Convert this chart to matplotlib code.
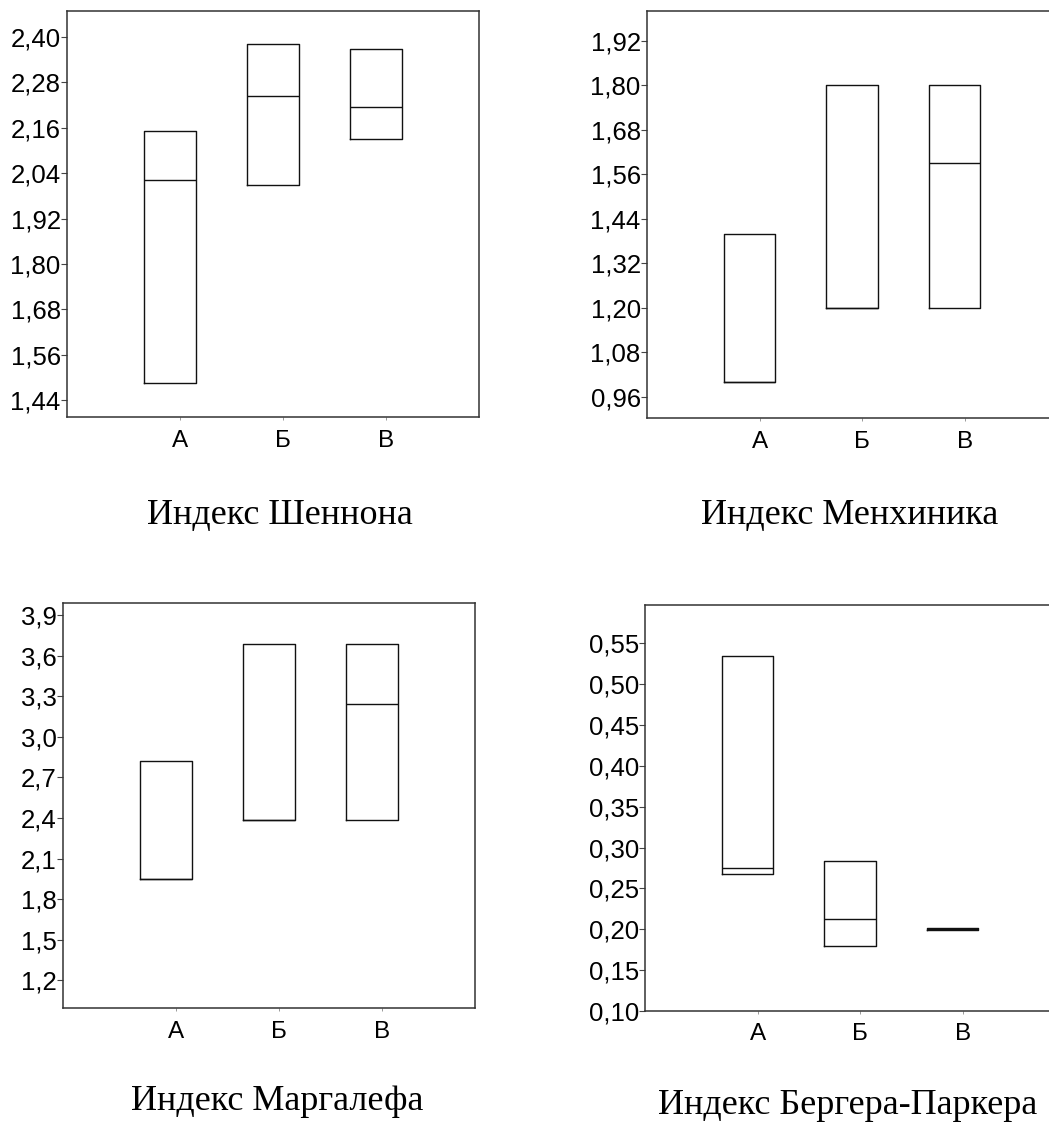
import matplotlib
matplotlib.use("Agg")
import matplotlib.pyplot as plt
from matplotlib.ticker import FuncFormatter

plt.rcParams["font.family"] = ["Liberation Sans", "DejaVu Sans"]

groups = ["А", "Б", "В"]

# Shannon index: box bottom, median, box top per group
shannon_q1 = [1.484, 2.010, 2.130]
shannon_med = [2.022, 2.243, 2.216]
shannon_q3 = [2.152, 2.381, 2.368]
shannon_ticks = [1.44, 1.56, 1.68, 1.80, 1.92, 2.04, 2.16, 2.28, 2.40]

# Menhinick index
menh_q1 = [1.00, 1.20, 1.20]
menh_med = [1.00, 1.20, 1.59]
menh_q3 = [1.40, 1.80, 1.80]
menh_ticks = [0.96, 1.08, 1.20, 1.32, 1.44, 1.56, 1.68, 1.80, 1.92]

# Margalef index
marg_q1 = [1.945, 2.384, 2.384]
marg_med = [1.945, 2.384, 3.242]
marg_q3 = [2.822, 3.683, 3.683]
marg_ticks = [1.2, 1.5, 1.8, 2.1, 2.4, 2.7, 3.0, 3.3, 3.6, 3.9]

# Berger-Parker index
bp_q1 = [0.2675, 0.1794, 0.1995]
bp_med = [0.2745, 0.2124, 0.2008]
bp_q3 = [0.534, 0.2838, 0.2020]
bp_ticks = [0.10, 0.15, 0.20, 0.25, 0.30, 0.35, 0.40, 0.45, 0.50, 0.55]

W, H = 1049, 1124
fig = plt.figure(figsize=(W / 100, H / 100), dpi=100)


def px_axes(left, top, right, bottom):
    return fig.add_axes([left / W, 1 - bottom / H, (right - left) / W, (bottom - top) / H])


def panel(ax, q1, med, q3, ticks, ylim, decimals, title, title_xy):
    stats = []
    for lo, m, hi in zip(q1, med, q3):
        stats.append(dict(med=m, q1=lo, q3=hi, whislo=lo, whishi=hi, fliers=[]))
    ax.bxp(stats, positions=[1, 2, 3], widths=0.5, showcaps=False, showfliers=False,
           boxprops=dict(color="#111111", linewidth=1.0),
           medianprops=dict(color="#111111", linewidth=1.0),
           whiskerprops=dict(linewidth=0), manage_ticks=False)
    ax.set_xlim(0, 4)
    ax.set_ylim(*ylim)
    ax.set_yticks(ticks)
    ax.yaxis.set_major_formatter(FuncFormatter(
        lambda v, p: f"{v:.{decimals}f}".replace(".", ",")))
    ax.set_xticks([1.1, 2.1, 3.1])
    ax.set_xticklabels(groups)
    ax.tick_params(axis="y", length=4, width=0.8, pad=0.5, labelsize=18.5,
                   color="#444444")
    ax.tick_params(axis="x", length=2, width=0.6, pad=7, labelsize=17.5,
                   color="#888888")
    for s in ax.spines.values():
        s.set_color("#333333")
        s.set_linewidth(1.1)
    fig.text(title_xy[0] / W, 1 - title_xy[1] / H, title, ha="center", va="center",
             fontsize=26, family=["Liberation Serif", "DejaVu Serif"])


ax1 = px_axes(67, 11, 479, 417)
panel(ax1, shannon_q1, shannon_med, shannon_q3, shannon_ticks, (1.395, 2.469), 2,
      "Индекс Шеннона", (280, 515))

ax2 = px_axes(647, 11, 1057, 418)
panel(ax2, menh_q1, menh_med, menh_q3, menh_ticks, (0.903, 2.00), 2,
      "Индекс Менхиника", (850, 515))

ax3 = px_axes(63, 603, 475, 1008)
panel(ax3, marg_q1, marg_med, marg_q3, marg_ticks, (0.995, 3.989), 1,
      "Индекс Маргалефа", (277, 1102))

ax4 = px_axes(645, 605, 1055, 1011)
panel(ax4, bp_q1, bp_med, bp_q3, bp_ticks, (0.10, 0.597), 2,
      "Индекс Бергера-Паркера", (848, 1105))

fig.savefig("out.png", dpi=100, facecolor="white")
